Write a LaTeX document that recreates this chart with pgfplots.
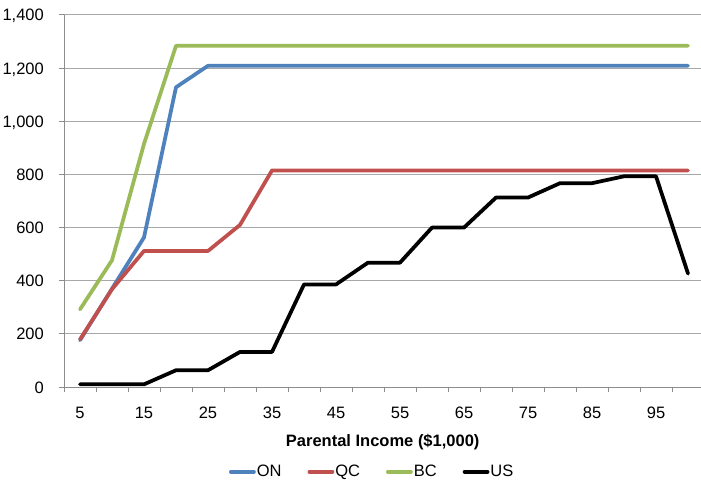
\documentclass[border=0pt]{standalone}
\usepackage{fontspec}
\setmainfont{Liberation Sans}
\usepackage{pgfplots}
\usepackage{pgfplotstable}
\pgfplotsset{compat=1.18}

\definecolor{onblue}{HTML}{4F81BD}
\definecolor{qcred}{HTML}{C0504D}
\definecolor{bcgreen}{HTML}{9BBB59}
\definecolor{gridgray}{HTML}{A8A8A8}
\definecolor{axisgray}{HTML}{8C8C8C}

% Grant amounts by parental income ($1,000)
\pgfplotstableread{
inc  ON    QC   BC    US
5    176   179  292   10
10   370   368  477   10
15   563   512  915   10
20   1128  512  1284  63
25   1209  512  1284  63
30   1209  610  1284  132
35   1209  815  1284  132
40   1209  815  1284  386
45   1209  815  1284  386
50   1209  815  1284  468
55   1209  815  1284  468
60   1209  815  1284  600
65   1209  815  1284  600
70   1209  815  1284  713
75   1209  815  1284  713
80   1209  815  1284  767
85   1209  815  1284  767
90   1209  815  1284  793
95   1209  815  1284  793
100  1209  815  1284  427
}\grants

\begin{document}
\begin{tikzpicture}
\begin{axis}[
  at={(64pt,93pt)}, anchor=south west,
  width=640pt, height=372pt, scale only axis,
  font=\fontsize{16.5}{19.8}\selectfont,
  xmin=2.5, xmax=102.5,
  ymin=0, ymax=1400,
  ytick={0,200,...,1400},
  xtick={2.5,7.5,...,97.5},
  xticklabels={},
  extra x ticks={5,15,...,95},
  extra x tick labels={5,15,25,35,45,55,65,75,85,95},
  extra x tick style={major tick length=0pt},
  axis x line*=bottom, axis y line*=left,
  axis line style={axisgray, line width=1pt, -},
  tick style={axisgray, line width=1pt},
  tick align=outside, major tick length=5pt,
  ymajorgrids, grid style={gridgray, line width=1pt},
  /pgf/number format/.cd, 1000 sep={,}, assume math mode=true,
  /pgfplots/.cd,
  yticklabel style={anchor=base east, inner sep=0pt, xshift=-15pt, yshift=-6pt},
  xticklabel style={anchor=base, inner sep=0pt, yshift=-31pt},
  xlabel={\textbf{Parental Income (\$1,000)}},
  xlabel style={at={(axis description cs:0.498,-0.147)}, anchor=center},
  legend columns=4,
  legend style={at={(0.480,-0.2277)}, anchor=center, draw=none, fill=none,
    nodes={inner sep=0pt},
    /tikz/every odd column/.append style={column sep=1pt},
    /tikz/every even column/.append style={column sep=26pt}},
  legend image code/.code={\draw[#1] (0pt,0pt) -- (23pt,0pt);},
  every axis plot/.append style={line width=3.75pt, line join=round, line cap=round},
]
\addplot[onblue] table[x=inc, y=ON] {\grants};
\addlegendentry{ON}
\addplot[qcred] table[x=inc, y=QC] {\grants};
\addlegendentry{QC}
\addplot[bcgreen] table[x=inc, y=BC] {\grants};
\addlegendentry{BC}
\addplot[black] table[x=inc, y=US] {\grants};
\addlegendentry{US}
\end{axis}
\pgfresetboundingbox
\path (0pt,0pt) rectangle (701pt,480pt);
\end{tikzpicture}
\end{document}
